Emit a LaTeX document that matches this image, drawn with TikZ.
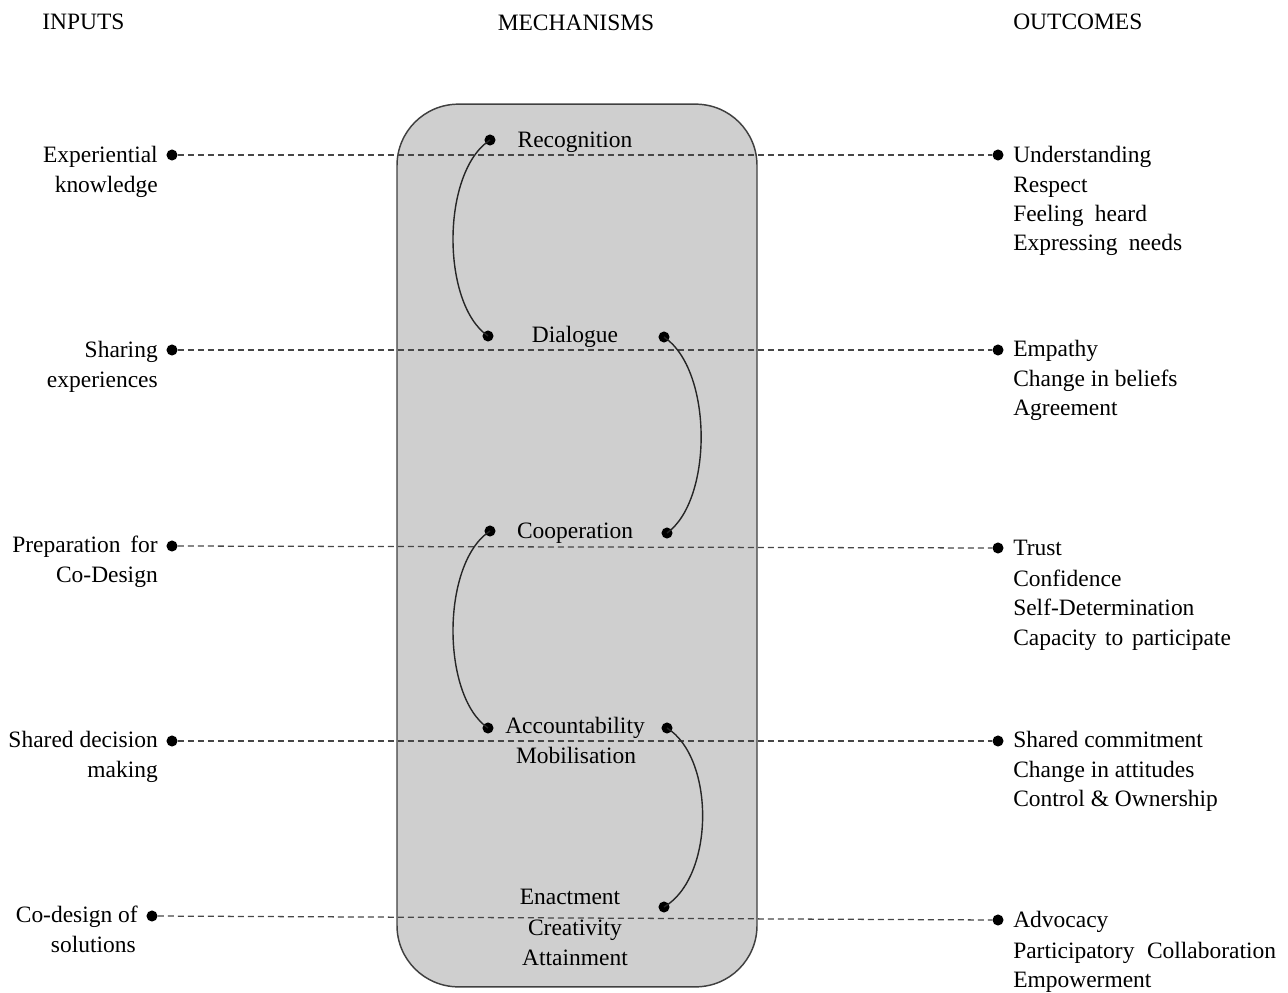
\documentclass[tikz,border=0pt]{standalone}
\usepackage{fontspec}
\setmainfont{Liberation Serif}
\begin{document}
\begin{tikzpicture}[x=0.75pt,y=-0.75pt,
  lbl/.style={inner sep=0pt,font=\fontsize{17.6}{22}\selectfont},
  lft/.style={lbl,anchor=base east},
  rgt/.style={lbl,anchor=base west},
  mid/.style={lbl,anchor=base},
  dot/.style={circle,fill=black,inner sep=0pt,minimum size=8.3pt},
  dashline/.style={draw=black!72,dash pattern=on 4.5pt off 3pt,line width=0.95pt},
  link/.style={draw=black!85,line width=1.05pt}]
\useasboundingbox (0,0) rectangle (1288,992);
% box
\node[draw=black!75,line width=1.1pt,fill=black!19,rounded corners=46pt,minimum width=270pt,minimum height=662pt,inner sep=0pt] (box) at (577,545.5) {};
% headers
\node[rgt] (hin) at (42,29) {INPUTS};
\node[mid] (hme) at (576,31) {MECHANISMS};
\node[rgt] (hout) at (1013,29) {OUTCOMES};
% dots
\node[dot] (l1) at (172,155) {};
\node[dot] (l2) at (172,350) {};
\node[dot] (l3) at (172,546) {};
\node[dot] (l4) at (172,741) {};
\node[dot] (l5) at (152,916) {};
\node[dot] (r1) at (998,155) {};
\node[dot] (r2) at (998,350) {};
\node[dot] (r3) at (998,548) {};
\node[dot] (r4) at (998,741) {};
\node[dot] (r5) at (998,920) {};
\draw[dashline] (l1) -- (r1);
\draw[dashline] (l2) -- (r2);
\draw[dashline] (l3) -- (r3);
\draw[dashline] (l4) -- (r4);
\draw[dashline] (l5) -- (r5);
% mechanism dots
\node[dot] (m1l) at (490,140) {};
\node[dot] (m2l) at (488,336) {};
\node[dot] (m2r) at (664,337) {};
\node[dot] (m3l) at (490,531) {};
\node[dot] (m3r) at (667,533) {};
\node[dot] (m4l) at (488,728) {};
\node[dot] (m4r) at (667,728) {};
\node[dot] (m5r) at (664,907) {};
\draw[link] (m1l.center) .. controls (441,172) and (441,304) .. (m2l.center);
\draw[link] (m2r.center) .. controls (713,370) and (713,500) .. (m3r.center);
\draw[link] (m3l.center) .. controls (441,563) and (441,696) .. (m4l.center);
\draw[link] (m4r.center) .. controls (715,758) and (715,877) .. (m5r.center);
% mechanism texts
\node[mid] (t1) at (575,147) {Recognition};
\node[mid] (t2) at (575,342) {Dialogue};
\node[mid] (t3) at (575,538) {Cooperation};
\node[mid] (t4a) at (575,733) {Accountability};
\node[mid] (t4b) at (576,763) {Mobilisation};
\node[mid] (t5a) at (570,904) {Enactment};
\node[mid] (t5b) at (575,935) {Creativity};
\node[mid] (t5c) at (575,965) {Attainment};
% inputs
\node[lft] (i1a) at (158,162) {Experiential};
\node[lft] (i1b) at (158,192) {knowledge};
\node[lft] (i2a) at (158,357) {Sharing};
\node[lft] (i2b) at (158,387) {experiences};
\node[lft] (i3a) at (158,552) {Preparation\hspace{3pt} for};
\node[lft] (i3b) at (158,582) {Co-Design};
\node[lft] (i4a) at (158,747) {Shared decision};
\node[lft] (i4b) at (158,777) {making};
\node[lft] (i5a) at (138,922) {Co-design of};
\node[lft] (i5b) at (136,952) {solutions};
% outcomes
\node[rgt] (o1a) at (1013,162) {Understanding};
\node[rgt] (o1b) at (1013,192) {Respect};
\node[rgt] (o1c) at (1013,221) {Feeling\hspace{4pt} heard};
\node[rgt] (o1d) at (1013,250) {Expressing\hspace{4pt} needs};
\node[rgt] (o2a) at (1013,356) {Empathy};
\node[rgt] (o2b) at (1013,386) {Change in beliefs};
\node[rgt] (o2c) at (1013,415) {Agreement};
\node[rgt] (o3a) at (1013,555) {Trust};
\node[rgt] (o3b) at (1013,586) {Confidence};
\node[rgt] (o3c) at (1013,615) {Self-Determination};
\node[rgt] (o3d) at (1013,645) {Capacity\hspace{2pt} to\hspace{2pt} participate};
\node[rgt] (o4a) at (1013,747) {Shared commitment};
\node[rgt] (o4b) at (1013,777) {Change in attitudes};
\node[rgt] (o4c) at (1013,806) {Control \& Ownership};
\node[rgt] (o5a) at (1013,927) {Advocacy};
\node[rgt] (o5b) at (1013,958) {Participatory\hspace{5pt} Collaboration};
\node[rgt] (o5c) at (1013,987) {Empowerment};
\end{tikzpicture}
\end{document}
